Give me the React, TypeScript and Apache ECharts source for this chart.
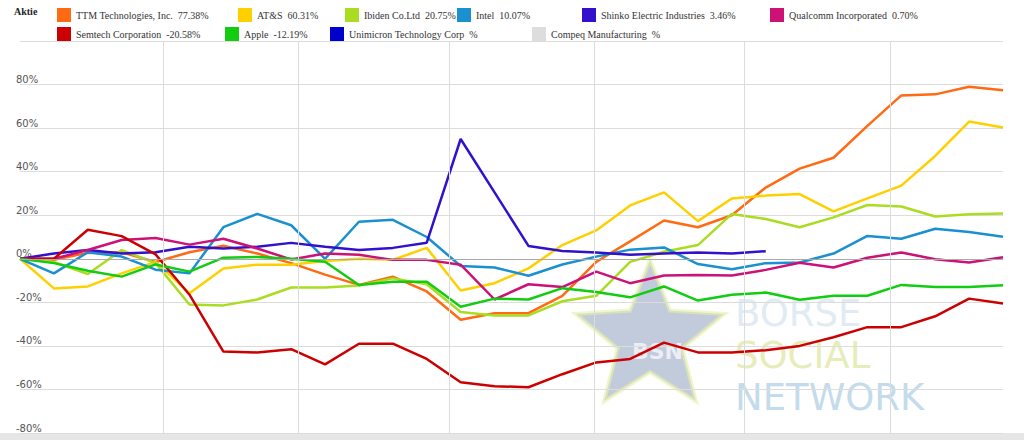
import { useEffect, useRef } from "react"
import * as echarts from "echarts"

// 30 observation points (no labels shown on the x axis)
const points: string[] = Array.from({ length: 30 }, (_, i) => String(i + 1))

const ttm = [0, -0.5, 2.7, 3, -1.5, 3, 6, 2.4, -2, -7.3, -12, -8.2, -15, -28, -25, -25, -17, -1.4, 8, 17.6, 14.5, 20, 32.7, 41.4, 46.4, 61, 75, 75.5, 79, 77.38]
const ats = [0, -13.6, -12.7, -6.7, -1.4, -15.8, -4.5, -2.7, -2.7, -1, 0, -0.5, 5, -14.6, -11.2, -4.4, 6.3, 13, 24.5, 30.5, 17.3, 27.7, 29, 29.7, 21.8, 27.7, 33.6, 47.2, 63, 60.31]
const ibiden = [0, -1.5, -7, 4, -2, -21, -21.4, -18.7, -13.2, -13.2, -12.3, -9, -11.7, -24.4, -26, -26, -19.5, -17, -1.4, 3.2, 6.3, 20.6, 18.3, 14.5, 19, 24.7, 24, 19.4, 20.4, 20.75]
const intel = [0, -6.7, 3, 1, -5, -6.7, 14.5, 20.6, 15.4, 0, 17, 17.9, 10, -3.3, -4, -7.8, -2.6, 1, 4.2, 5.2, -2.4, -4.8, -2, -1.7, 2.4, 10.5, 9.2, 13.8, 12.3, 10.07]
const shinko: (number | null)[] = [0, 2.4, 4, 2.4, 3, 5.5, 4.7, 5.5, 7.3, 5.5, 4, 5, 7.4, 55, 30.5, 5.9, 3.6, 2.9, 1.8, 2.4, 2.9, 2.4, 3.46, null, null, null, null, null, null, null]
const qualcomm = [0, 0, 4, 8.6, 9.5, 6.5, 9.2, 4.7, -0.3, 2.4, 1.8, -0.5, -0.5, -2.7, -18.7, -11.7, -13, -5.9, -11.2, -7.7, -7.4, -7.7, -5.1, -1.8, -4, 0.5, 2.9, -0.2, -1.7, 0.7]
const semtech = [0, 0, 13.3, 10.4, 2, -16.5, -42.6, -43, -41.5, -48.5, -39, -39, -46, -56.7, -58.5, -59, -53, -47.6, -46, -38.5, -43, -43, -42, -40, -36, -31.4, -31.4, -26.4, -18.3, -20.58]
const apple = [0, -2, -5.5, -8.2, -2.6, -5.9, 0.5, 0.8, 0, -1.4, -12, -10.5, -10.5, -22, -18.3, -18.7, -13.5, -15.3, -17.7, -12.7, -19.2, -16.5, -15.5, -18.8, -17, -17, -12, -13, -13, -12.19]

// month boundaries, in fractional point index
const monthLines = [4.22, 8.2, 12.65, 16.93, 21.36, 25.66]

const yTicks = [-80, -60, -40, -20, 0, 20, 40, 60, 80]

export default function App() {
  const chartRef = useRef<HTMLDivElement>(null)

  useEffect(() => {
    if (!chartRef.current) return
    const chart = echarts.init(chartRef.current, undefined, { renderer: "svg" })

    const series = [
      { name: "TTM Technologies, Inc.  77.38%", color: "#ff6a13", data: ttm, left: 52, top: 3 },
      { name: "AT&S  60.31%", color: "#ffd000", data: ats, left: 233, top: 3 },
      { name: "Ibiden Co.Ltd  20.75%", color: "#aadd22", data: ibiden, left: 340, top: 3 },
      { name: "Intel  10.07%", color: "#1a90d0", data: intel, left: 452, top: 3 },
      { name: "Shinko Electric Industries  3.46%", color: "#3311cc", data: shinko, left: 577, top: 3 },
      { name: "Qualcomm Incorporated  0.70%", color: "#cc1177", data: qualcomm, left: 765, top: 3 },
      { name: "Semtech Corporation  -20.58%", color: "#cc0000", data: semtech, left: 52, top: 22 },
      { name: "Apple  -12.19%", color: "#11cc11", data: apple, left: 220, top: 22 },
      { name: "Unimicron Technology Corp  %", color: "#0000cc", data: [] as number[], left: 325, top: 22 },
      { name: "Compeq Manufacturing  %", color: "#dddddd", data: [] as number[], left: 527, top: 22 },
    ]

    // star watermark
    const cx = 650, cy = 338, ro = 78, ri = 34
    const star: number[][] = []
    for (let i = 0; i < 10; i++) {
      const a = -Math.PI / 2 + (i * Math.PI) / 5
      const r = i % 2 === 0 ? ro : ri
      star.push([cx + r * Math.cos(a), cy + r * Math.sin(a)])
    }

    const wm = (text: string, y: number, fill: string) => ({
      type: "text",
      x: 735,
      y,
      z: -1,
      style: { text, fontSize: 37, lineHeight: 34, fontFamily: "DejaVu Sans", fill, opacity: 0.8, verticalAlign: "top" },
    })

    chart.setOption({
      animation: false,
      textStyle: { fontFamily: "Liberation Serif, serif" },
      graphic: [
        { type: "text", left: 14, top: 6, style: { text: "Aktie", font: "bold 10px Liberation Serif", fill: "#222" } },
        { type: "rect", shape: { x: 0, y: 433, width: 1024, height: 7 }, style: { fill: "#e6e6e6" }, z: -1 },
        { type: "polygon", shape: { points: star }, style: { fill: "#9aa9c4", stroke: "#e6f0a8", lineWidth: 4, opacity: 0.6 }, z: -1 },
        { type: "text", x: 632, y: 340, style: { text: "BSN", font: "bold 22px DejaVu Sans", fill: "#ffffff", opacity: 0.7 }, z: -1 },
        wm("BÖRSE", 296, "#d8e6f2"),
        wm("SOCIAL", 338, "#dfe8a8"),
        wm("NETWORK", 380, "#b4d2e6"),
      ],
      legend: series.map((s) => ({
        data: [s.name],
        left: s.left,
        top: s.top,
        itemWidth: 14,
        itemHeight: 14,
        itemGap: 4,
        icon: "rect",
        textStyle: { fontSize: 10, color: "#333", fontFamily: "Liberation Serif" },
      })),
      grid: { left: 20, right: 21, top: 41, bottom: 7 },
      xAxis: [
        {
          type: "category",
          data: points,
          boundaryGap: false,
          axisLine: { show: false },
          axisTick: { show: false },
          axisLabel: { show: false },
        },
        {
          type: "value",
          min: 0,
          max: points.length - 1,
          show: false,
        },
      ],
      yAxis: {
        type: "value",
        min: -80,
        max: 100,
        interval: 20,
        axisLine: { show: false },
        axisTick: { show: false },
        axisLabel: {
          inside: true,
          verticalAlign: "bottom",
          margin: -4,
          fontSize: 10,
          color: "#555",
          fontFamily: "DejaVu Sans",
          formatter: (v: number) => (yTicks.includes(v) ? v + "%" : ""),
        },
        splitLine: { lineStyle: { color: "#dcdcdc" } },
      },
      series: [
        ...series.map((s) => ({
          name: s.name,
          type: "line",
          data: s.data,
          color: s.color,
          symbol: "none",
          lineStyle: { width: 2.5, color: s.color },
        })),
        {
          type: "line",
          xAxisIndex: 1,
          data: [],
          silent: true,
          markLine: {
            silent: true,
            symbol: "none",
            label: { show: false },
            lineStyle: { color: "#dcdcdc", type: "solid", width: 1 },
            data: [...monthLines.map((x) => ({ xAxis: x })), { yAxis: 0, lineStyle: { color: "#aaaaaa" } }],
          },
          z: 0,
        },
      ],
    })

    return () => chart.dispose()
  }, [])

  return <div ref={chartRef} style={{ width: 1024, height: 440, position: "absolute", left: 0, top: 0 }} />
}
